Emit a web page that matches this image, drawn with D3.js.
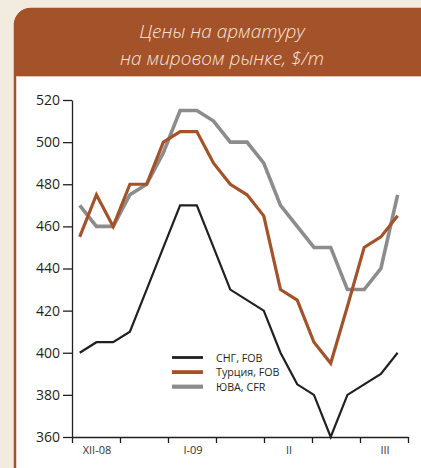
<!DOCTYPE html>
<html>
<head>
<meta charset="utf-8">
<title>Цены на арматуру</title>
<style>
  body { margin: 0; background: #f2ebdf; }
  svg { display: block; }
  text { font-family: "Open Sans", "Noto Sans", sans-serif; }
</style>
</head>
<body>
<svg width="421" height="468"></svg>
<script src="https://d3js.org/d3.v7.min.js"></script>
<script>
// weekly points, XII-08 .. III-09
var weeks = d3.range(20);
var sng    = [400,405,405,410,430,450,470,470,450,430,425,420,400,385,380,360,380,385,390,400];
var turkey = [455,475,460,480,480,500,505,505,490,480,475,465,430,425,405,395,422,450,455,465];
var sea    = [470,460,460,475,480,495,515,515,510,500,500,490,470,460,450,450,430,430,440,475];
var seriesNames = ["СНГ, FOB", "Турция, FOB", "ЮВА, CFR"];
var yTicks = [360,380,400,420,440,460,480,500,520];
var monthLabels = ["XII-08", "I-09", "II", "III"];
var titleLines = ["Цены на арматуру", "на мировом рынке, $/m"];

var brown = "#a4522a";
var colors = ["#231f20", brown, "#8c8c8d"];
var widths = [2.2, 3.2, 3.6];

var svg = d3.select("svg");

// panel
svg.append("defs").append("clipPath").attr("id", "head")
  .append("rect").attr("x", 0).attr("y", 0).attr("width", 421).attr("height", 76);

svg.append("rect")
  .attr("x", 15).attr("y", 9).attr("width", 430).attr("height", 480)
  .attr("rx", 16).attr("fill", "#fff")
  .attr("stroke", brown).attr("stroke-width", 2.5);

svg.append("rect")
  .attr("clip-path", "url(#head)")
  .attr("x", 14).attr("y", 8).attr("width", 432).attr("height", 480)
  .attr("rx", 17).attr("fill", brown);

svg.append("line")
  .attr("x1", 16).attr("x2", 421).attr("y1", 76.5).attr("y2", 76.5)
  .attr("stroke", "#e2c3ac").attr("stroke-width", 1.2);

svg.selectAll(".title").data(titleLines).enter().append("text")
  .attr("x", 222).attr("y", function(d, i) { return 38 + i * 27; })
  .attr("text-anchor", "middle")
  .attr("font-size", 19).attr("font-style", "italic").attr("font-weight", 300)
  .attr("fill", "#f7e6da")
  .text(function(d) { return d; });

// scales
var x = d3.scaleLinear().domain([-0.46, 19.62]).range([72, 408]);
var xTick = d3.scaleLinear().domain([0, 7]).range([72, 408]);
var y = d3.scaleLinear().domain([360, 520]).range([437, 100]);

var yAxis = svg.append("g")
  .attr("transform", "translate(72,0)")
  .call(d3.axisLeft(y).tickValues(yTicks).tickSize(9).tickPadding(3).tickSizeOuter(0));
yAxis.selectAll("text").attr("font-size", 14).attr("fill", "#231f20")
  .style("font-family", "'Open Sans', sans-serif");
yAxis.selectAll("line, path").attr("stroke", "#231f20").attr("stroke-width", 1.3);

var xAxis = svg.append("g")
  .attr("transform", "translate(0," + y(360) + ")")
  .call(d3.axisBottom(xTick).tickValues(d3.range(8)).tickSize(6).tickFormat("").tickSizeOuter(0));
xAxis.selectAll("line, path").attr("stroke", "#231f20").attr("stroke-width", 1.3);

svg.selectAll(".month").data(monthLabels).enter().append("text")
  .attr("x", function(d, i) { return xTick(i * 2 + 0.5) + 1; })
  .attr("y", 454)
  .attr("text-anchor", "middle")
  .attr("font-size", 11).attr("fill", "#333")
  .text(function(d) { return d; });

// lines
var line = d3.line()
  .x(function(d, i) { return x(weeks[i]); })
  .y(function(d) { return y(d); });

var all = [sea, turkey, sng];
var order = [2, 1, 0];
svg.selectAll(".series").data(all).enter().append("path")
  .attr("fill", "none")
  .attr("stroke", function(d, i) { return colors[order[i]]; })
  .attr("stroke-width", function(d, i) { return widths[order[i]]; })
  .attr("stroke-linejoin", "miter")
  .attr("d", line);

// legend
var leg = svg.selectAll(".leg").data(seriesNames).enter().append("g")
  .attr("transform", function(d, i) { return "translate(172," + (357.5 + i * 14.6) + ")"; });
leg.append("line")
  .attr("x1", 0).attr("x2", 31).attr("y1", 0).attr("y2", 0)
  .attr("stroke", function(d, i) { return colors[i]; })
  .attr("stroke-width", function(d, i) { return widths[i] + 0.6; });
leg.append("text")
  .attr("x", 44).attr("y", 4.2)
  .attr("font-size", 10.7).attr("fill", "#231f20")
  .text(function(d) { return d; });
</script>
</body>
</html>
